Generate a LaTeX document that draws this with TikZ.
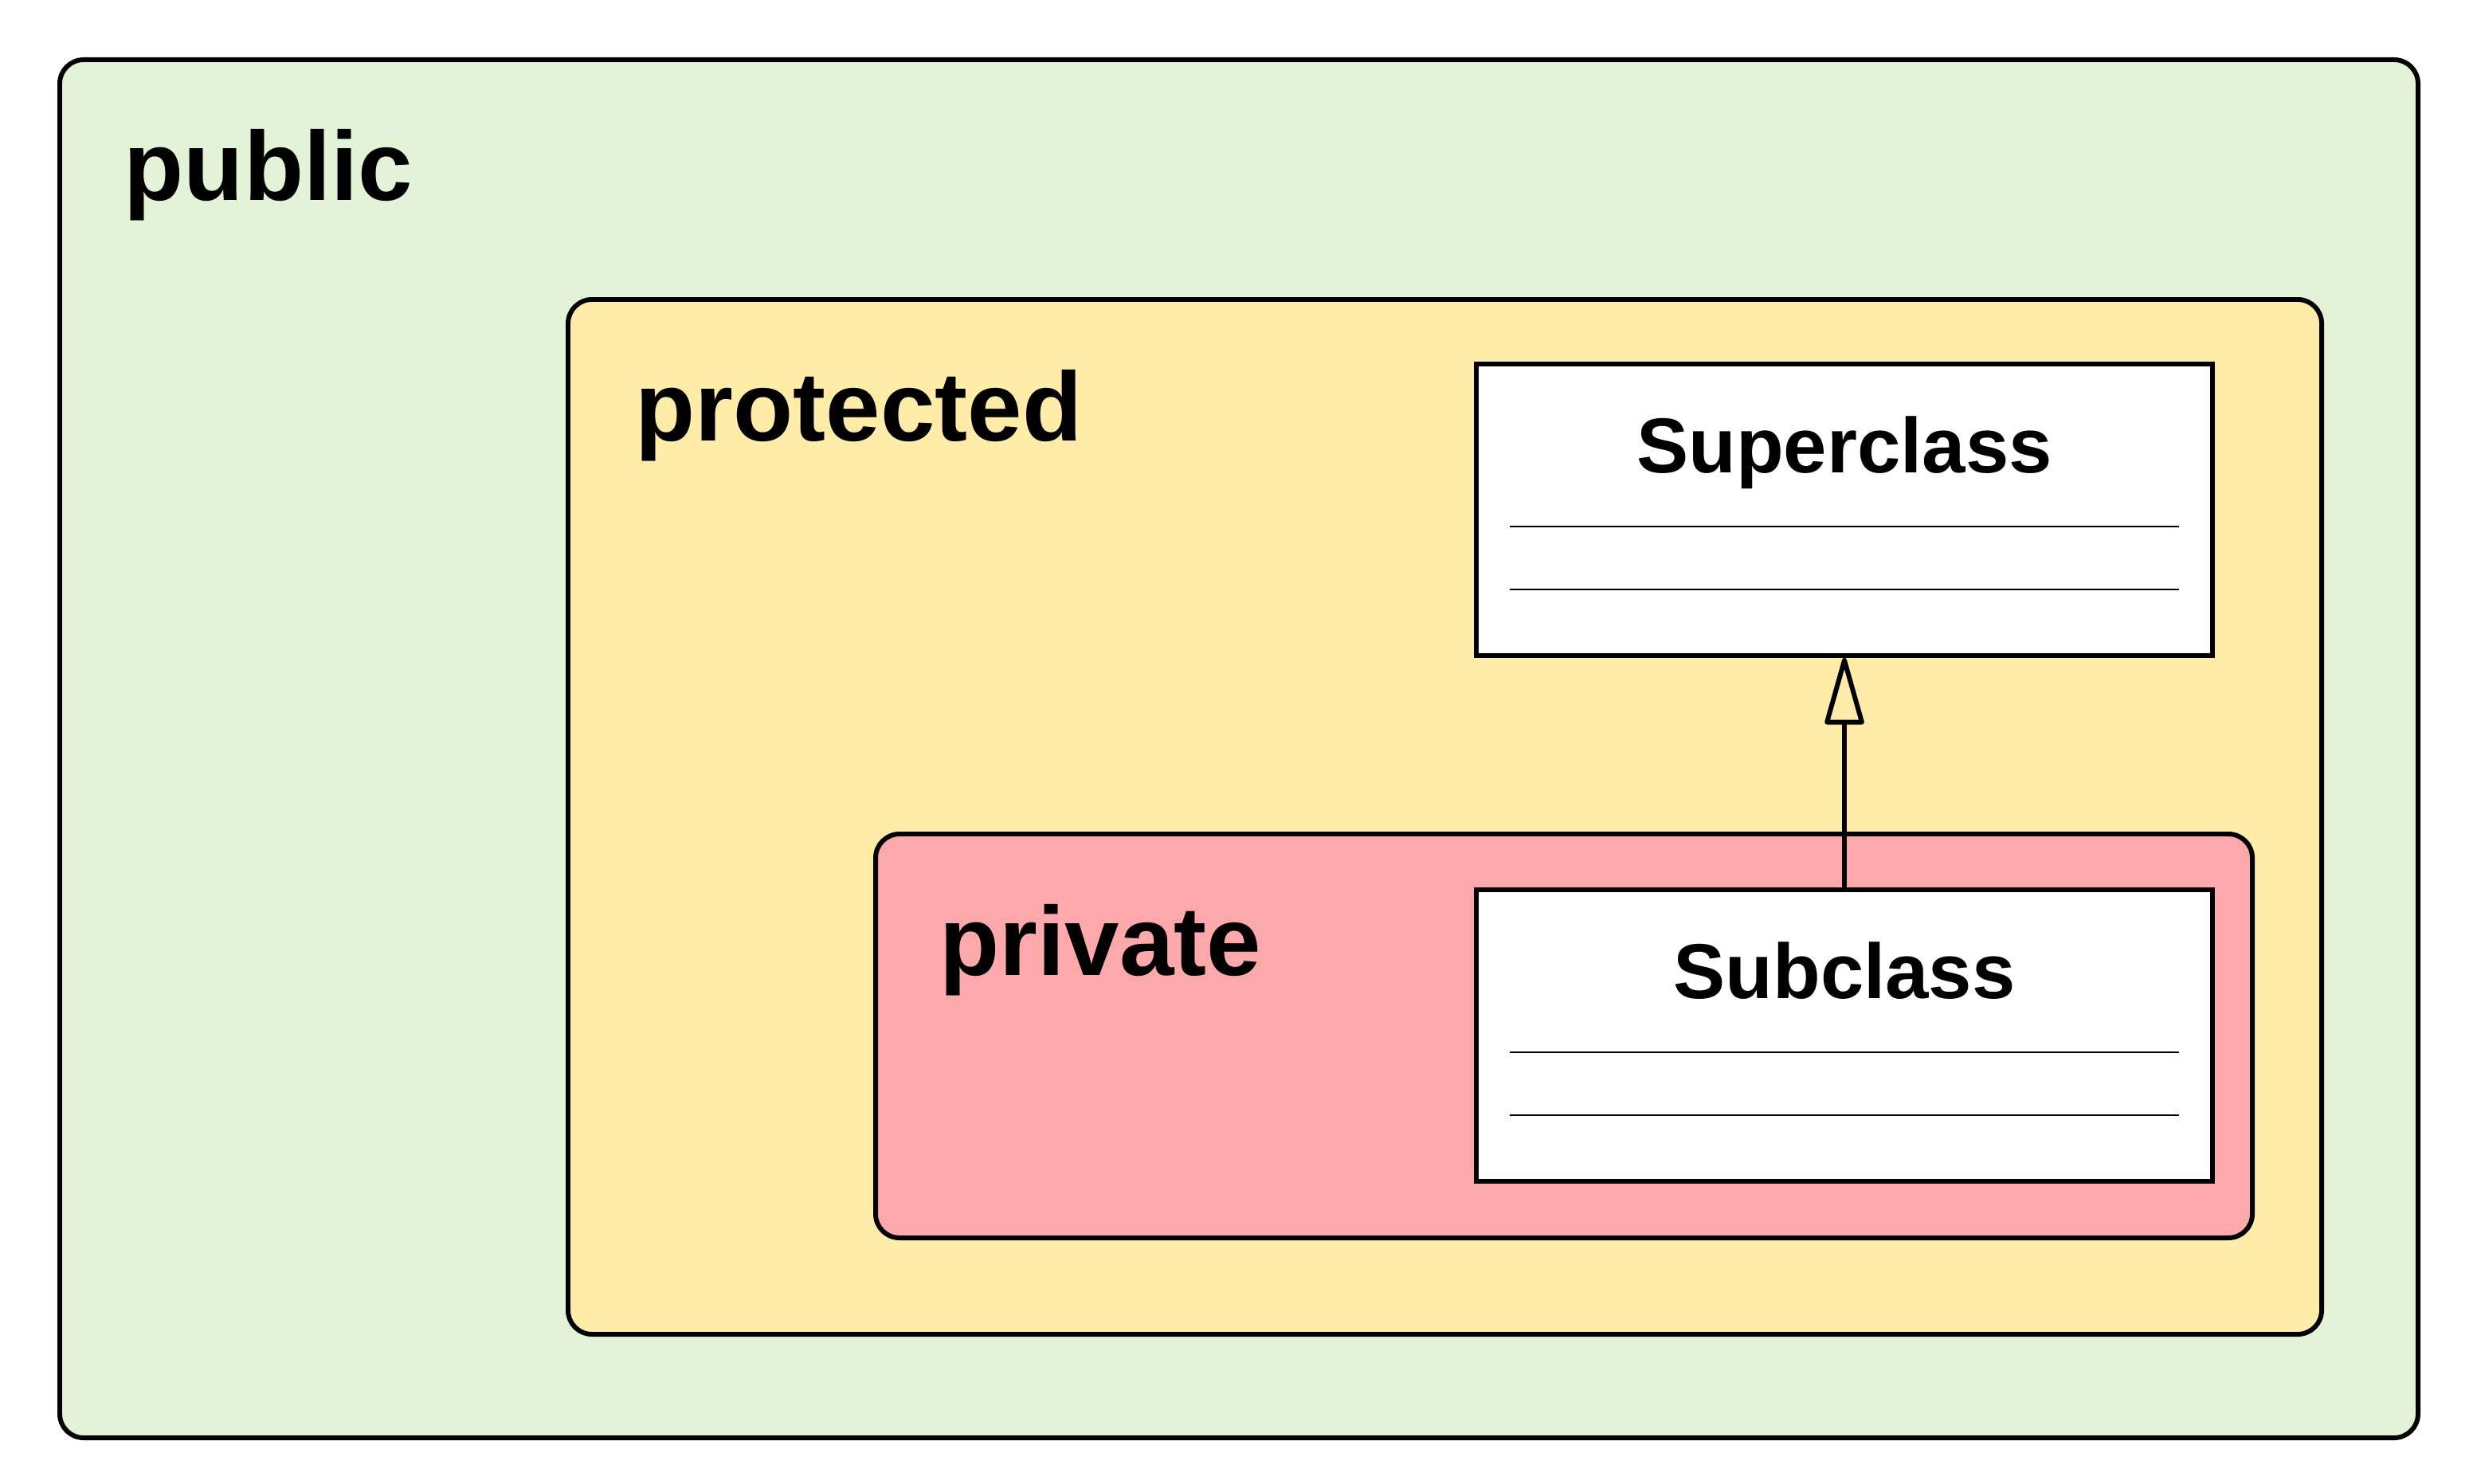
\documentclass[tikz,border=0pt]{standalone}
\usepackage{fontspec}
\setmainfont{Liberation Sans}
\usetikzlibrary{arrows.meta,calc,positioning}
\definecolor{pubgreen}{RGB}{227,243,216}
\definecolor{protyellow}{RGB}{254,236,168}
\definecolor{privpink}{RGB}{253,168,171}

\begin{document}
\begin{tikzpicture}[
  zone/.style={draw, line width=1.7pt, rounded corners=0.3cm, inner sep=0pt},
  zonelabel/.style={anchor=base west, inner sep=0pt, font=\fontsize{35}{42}\selectfont\bfseries},
  classbox/.style={draw, fill=white, line width=1.7pt, minimum width=9.24cm, minimum height=3.66cm, inner sep=0pt},
  classname/.style={anchor=base, inner sep=0pt, font=\fontsize{27.8}{33}\selectfont\bfseries},
  sep/.style={line width=0.8pt},
  inherit/.style={line width=1.7pt, -{Triangle[open, length=0.92cm, width=0.50cm, line join=round]}}
]
\useasboundingbox (0,0) rectangle (31.04,-18.63);

% nested visibility zones
\node[zone, fill=pubgreen, minimum width=29.60cm, minimum height=17.30cm] (pub) at (15.55,-9.40) {};
\node[zone, fill=protyellow, minimum width=22.01cm, minimum height=12.99cm] (prot) at (18.135,-10.255) {};
\node[zone, fill=privpink, minimum width=17.28cm, minimum height=5.07cm] (priv) at (19.63,-13.005) {};

\node[zonelabel] (publbl) at ($(pub.north west)+(0.83,-1.79)$) {public};
\node[zonelabel] (protlbl) at ($(prot.north west)+(0.87,-1.80)$) {protected};
\node[zonelabel] (privlbl) at ($(priv.north west)+(0.83,-1.80)$) {private};

% classes
\node[classbox] (super) at (23.15,-6.40) {};
\node[classbox] (sub) at (23.15,-13.00) {};

\node[classname] (supername) at ($(super.north)+(0,-1.39)$) {Superclass};
\node[classname] (subname) at ($(sub.north)+(0,-1.39)$) {Subclass};

\foreach \c in {super,sub}{
  \draw[sep] ($(\c.north west)+(0.45,-2.07)$) -- ($(\c.north east)+(-0.45,-2.07)$);
  \draw[sep] ($(\c.north west)+(0.45,-2.86)$) -- ($(\c.north east)+(-0.45,-2.86)$);
}

\draw[inherit] (sub) -- (super);
\end{tikzpicture}
\end{document}
